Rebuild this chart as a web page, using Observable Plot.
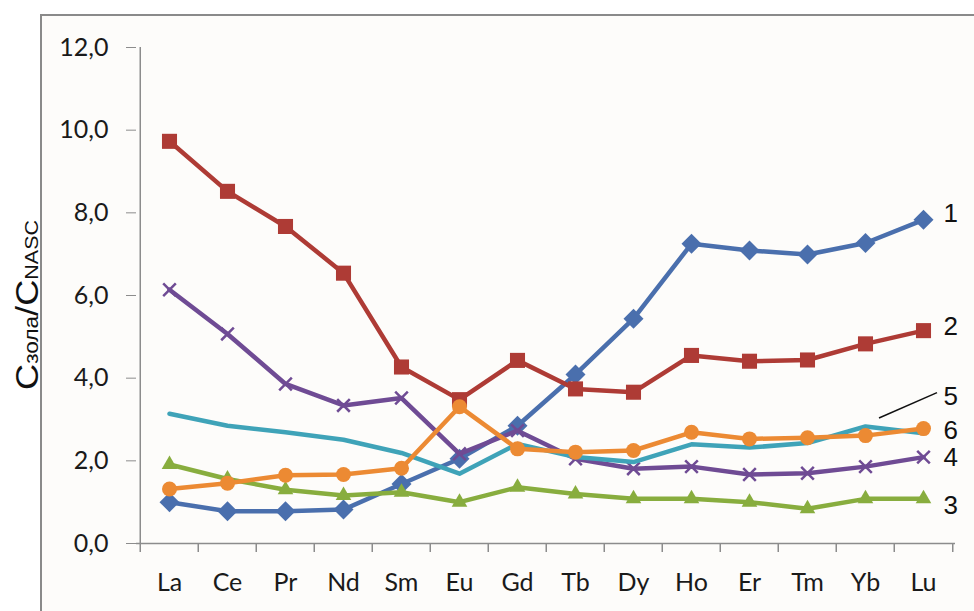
<!DOCTYPE html>
<html>
<head>
<meta charset="utf-8">
<script src="https://cdn.jsdelivr.net/npm/d3@7"></script>
<script src="https://cdn.jsdelivr.net/npm/@observablehq/plot@0.6"></script>
<style>
  html, body { margin: 0; padding: 0; background: #ffffff; }
  #wrap { position: relative; width: 974px; height: 611px; overflow: hidden; }
  #panel { position: absolute; left: 40px; top: 14px; right: 0; bottom: 0;
           border-left: 2px solid #8a8a8a; border-top: 2px solid #8a8a8a; background: #fdfcfa; }
  #chart { position: absolute; left: 0; top: 0; }
  #chart svg { overflow: visible; }
</style>
</head>
<body>
<div id="wrap"><div id="panel"></div><div id="chart"></div></div>
<script>
// ---- data ----
const elements = ["La","Ce","Pr","Nd","Sm","Eu","Gd","Tb","Dy","Ho","Er","Tm","Yb","Lu"];
const series1 = [1.00,0.78,0.78,0.82,1.44,2.05,2.85,4.09,5.44,7.25,7.09,6.99,7.27,7.83];
const series2 = [9.73,8.52,7.67,6.54,4.27,3.48,4.43,3.74,3.66,4.55,4.41,4.44,4.83,5.15];
const series3 = [1.91,1.56,1.30,1.16,1.24,1.00,1.36,1.20,1.08,1.08,1.00,0.84,1.08,1.08];
const series4 = [6.14,5.07,3.86,3.34,3.52,2.17,2.73,2.05,1.81,1.86,1.67,1.70,1.86,2.09];
const series5 = [3.14,2.85,2.69,2.51,2.19,1.69,2.41,2.09,1.97,2.40,2.32,2.43,2.83,2.67];
const series6 = [1.32,1.46,1.65,1.67,1.82,3.31,2.29,2.21,2.25,2.69,2.53,2.56,2.61,2.78];
const seriesNames = ["1","2","3","4","5","6"];
const yTicks = [0,2,4,6,8,10,12];

// ---- styles ----
const styles = {
  "1": {color: "#4a6fad", symbol: "diamond2", r: 9},
  "2": {color: "#ae3b35", symbol: "square", r: 8.5},
  "3": {color: "#88ad3e", symbol: "triangle", r: 5.8},
  "4": {color: "#6f4b94", symbol: "times", r: 5.8},
  "5": {color: "#3fa3b8", symbol: null, r: 0},
  "6": {color: "#ec8a33", symbol: "circle", r: 7.5}
};
const labelDy = {"1": -6, "2": -4, "3": 7, "4": 1, "5": -36, "6": 2};
const step = (955 - 136) / elements.length;

const allSeries = [series1, series2, series3, series4, series5, series6];
const rows = (vals, name) => vals.map((v, i) => ({el: elements[i], v, s: name}));

const marks = [];
// axis lines and boundary ticks
marks.push(Plot.ruleY([0], {stroke: "#8c8c8c", strokeWidth: 1.5}));
marks.push(Plot.ruleX([elements[0]], {x: d => d, dx: -step / 2, stroke: "#8c8c8c", strokeWidth: 1.5}));
marks.push(Plot.ruleX(elements, {x: d => d, dx: -step / 2, stroke: "#8c8c8c", strokeWidth: 1.5, insetTop: 496, insetBottom: -9}));
marks.push(Plot.ruleX([elements[elements.length - 1]], {x: d => d, dx: step / 2, stroke: "#8c8c8c", strokeWidth: 1.5, insetTop: 496, insetBottom: -9}));
marks.push(Plot.axisY({ticks: yTicks, tickSize: 10, tickPadding: 18, stroke: "#8c8c8c",
  tickFormat: d => d.toFixed(1).replace(".", ","), fontSize: 25, fontFamily: "Lato", fill: "#1a1a1a"}));
marks.push(Plot.axisX({tickSize: 0, tickPadding: 30, fontSize: 25, fontFamily: "Lato", fill: "#1a1a1a"}));

allSeries.forEach((vals, k) => {
  const name = seriesNames[k];
  const st = styles[name];
  const data = rows(vals, name);
  marks.push(Plot.line(data, {x: "el", y: "v", stroke: st.color, strokeWidth: 4.5, curve: "linear"}));
  if (st.symbol === "times") {
    marks.push(Plot.dot(data, {x: "el", y: "v", symbol: "times", r: st.r, stroke: st.color, strokeWidth: 2.5, fill: "none"}));
  } else if (st.symbol) {
    marks.push(Plot.dot(data, {x: "el", y: "v", symbol: st.symbol, r: st.r, fill: st.color, stroke: "none"}));
  }
});

// series labels at right
const labelRows = allSeries.map((vals, k) => ({name: seriesNames[k], el: elements[elements.length - 1], v: vals[vals.length - 1]}));
seriesNames.forEach((name, k) => {
  marks.push(Plot.text([labelRows[k]], {x: "el", y: "v", text: "name", dx: 20, dy: labelDy[name],
    textAnchor: "start", fontSize: 26, fontFamily: "Liberation Sans, Arial, sans-serif", fill: "#111"}));
});

// leader line for label 5
marks.push((index, scales) => {
  const sx = scales.x, sy = scales.y;
  const n = elements.length;
  const g = d3.create("svg:line")
    .attr("x1", sx(elements[n - 2]) + 14).attr("y1", sy(series5[n - 2]) - 8)
    .attr("x2", sx(elements[n - 1]) + 14).attr("y2", sy(series5[n - 1]) - 40)
    .attr("stroke", "#111").attr("stroke-width", 1.5);
  return g.node();
});

const chart = Plot.plot({
  width: 974,
  height: 611,
  marginLeft: 136,
  marginRight: 19,
  marginTop: 47,
  marginBottom: 68,
  style: {background: "transparent", overflow: "visible"},
  x: {type: "point", domain: elements, padding: 0.5, label: null},
  y: {domain: [0, 12], label: null},
  marks
});
document.getElementById("chart").appendChild(chart);

// y-axis title with mixed sizes
const svg = d3.select(chart);
const t = svg.append("text")
  .attr("transform", "translate(38,305) rotate(-90)")
  .attr("text-anchor", "middle")
  .attr("font-family", "Liberation Sans, Arial, sans-serif")
  .attr("fill", "#111")
  .attr("textLength", 170)
  .attr("lengthAdjust", "spacingAndGlyphs");
t.append("tspan").attr("font-size", 32).text("C");
t.append("tspan").attr("font-size", 20).text("зола");
t.append("tspan").attr("font-size", 32).text("/C");
t.append("tspan").attr("font-size", 19).text("NASC");
</script>
</body>
</html>
